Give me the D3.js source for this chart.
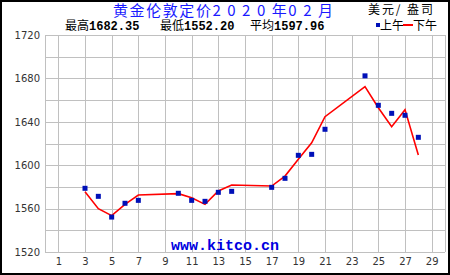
<!DOCTYPE html>
<html>
<head>
<meta charset="utf-8">
<script src="https://cdn.jsdelivr.net/npm/d3@7"></script>
<style>
  body { margin: 0; background: #fff; }
  svg { display: block; }
  .cjk { font-family: "Noto Sans CJK SC", sans-serif; }
  .mono { font-family: "Liberation Mono", "DejaVu Sans Mono", monospace; font-weight: bold; }
  .axis text { font-family: "DejaVu Sans", sans-serif; font-size: 10px; fill: #333; }
</style>
</head>
<body>
<div id="chart"></div>
<script>
// data: London gold fix, Feb 2020 (USD / oz)
const days = [3, 4, 5, 6, 7, 10, 11, 12, 13, 14, 17, 18, 19, 20, 21, 24, 25, 26, 27, 28];
const amPrices = [1578.7, 1571.3, 1552.2, 1564.9, 1567.6, 1574.1, 1567.6, 1566.7, 1575.0, 1575.9,
                  1579.6, 1587.9, 1609.1, 1610.0, 1633.1, 1682.35, 1655.2, 1647.8, 1646.0, 1625.7];
const pmPrices = [1575.6, 1559.9, 1553.5, 1563.9, 1572.5, 1573.8, 1570.0, 1563.9, 1576.2, 1581.8,
                  1580.8, 1590.0, 1605.4, 1620.7, 1644.7, 1672.4, 1653.0, 1635.5, 1651.2, 1609.4];
const yTicks = [1520, 1560, 1600, 1640, 1680, 1720];
const xTicks = [1, 3, 5, 7, 9, 11, 13, 15, 17, 19, 21, 23, 25, 27, 29];

const width = 450, height = 275;
const margin = { top: 35, right: 5, bottom: 23, left: 45 };

const svg = d3.select("#chart").append("svg")
  .attr("width", width).attr("height", height);

// scale
const x = d3.scaleLinear().domain([0, 30]).range([margin.left, width - margin.right]);
const y = d3.scaleLinear().domain([1520, 1720]).range([height - margin.bottom, margin.top]);

// outer frame
svg.append("rect")
  .attr("x", 1).attr("y", 1).attr("width", width - 2).attr("height", height - 2)
  .attr("fill", "#fff").attr("stroke", "#000").attr("stroke-width", 2);

// grid
const grid = svg.append("g").attr("shape-rendering", "crispEdges");
grid.selectAll(".hg").data(d3.range(1520, 1721, 20)).join("line")
  .attr("x1", x(0)).attr("x2", x(30))
  .attr("y1", (d) => Math.round(y(d)) + 0.5).attr("y2", (d) => Math.round(y(d)) + 0.5)
  .attr("stroke", "#c0c0c0");
grid.selectAll(".vg").data([0].concat(xTicks, [30])).join("line")
  .attr("x1", (d) => Math.round(x(d)) + 0.5).attr("x2", (d) => Math.round(x(d)) + 0.5)
  .attr("y1", y(1520)).attr("y2", y(1720))
  .attr("stroke", "#c0c0c0");

// axes
svg.append("g").attr("class", "axis")
  .attr("transform", `translate(${x(0)},0)`)
  .call(d3.axisLeft(y).tickValues(yTicks).tickFormat(d3.format("d")).tickSize(0).tickPadding(5))
  .call((g) => g.select(".domain").remove());
svg.append("g").attr("class", "axis")
  .attr("transform", `translate(0,${y(1520)})`)
  .call(d3.axisBottom(x).tickValues(xTicks).tickSize(0).tickPadding(6))
  .call((g) => g.select(".domain").remove());

// watermark
svg.append("text").attr("class", "mono")
  .attr("x", x(13.5)).attr("y", 250)
  .attr("text-anchor", "middle").attr("font-size", 15).attr("fill", "#0000e0")
  .text("www.kitco.cn");

// PM line
const line = d3.line()
  .x((d, i) => x(days[i]))
  .y((d) => y(d));
svg.append("path")
  .datum(pmPrices)
  .attr("d", line)
  .attr("fill", "none")
  .attr("stroke", "#ff0000")
  .attr("stroke-width", 1.6);

// AM squares
svg.selectAll(".am").data(amPrices).join("rect")
  .attr("x", (d, i) => x(days[i]) - 2.5)
  .attr("y", (d) => y(d) - 2.5)
  .attr("width", 5).attr("height", 5)
  .attr("fill", "#0010b8");

// title + header
svg.append("text").attr("class", "cjk")
  .attr("x", 113).attr("y", 16)
  .attr("font-size", 15).attr("fill", "#1a1aff")
  .attr("textLength", 220).attr("lengthAdjust", "spacing")
  .text("黄金伦敦定价2 0 2 0 年0 2 月");

svg.append("text").attr("class", "cjk")
  .attr("x", 368).attr("y", 14)
  .attr("font-size", 12).attr("fill", "#000")
  .attr("textLength", 65).attr("lengthAdjust", "spacing")
  .text("美元/ 盎司");

const stats = [["最高", "1682.35", 65], ["最低", "1552.20", 160], ["平均", "1597.96", 250]];
stats.forEach(([label, val, sx]) => {
  const t = svg.append("text").attr("x", sx).attr("y", 30).attr("fill", "#000");
  t.append("tspan").attr("class", "cjk").attr("font-size", 12).text(label);
  t.append("tspan").attr("class", "mono").attr("font-size", 12).text(val);
});

// legend
svg.append("rect").attr("x", 376).attr("y", 23).attr("width", 4).attr("height", 4).attr("fill", "#0010b8");
svg.append("text").attr("class", "cjk").attr("x", 380).attr("y", 30)
  .attr("font-size", 12).attr("fill", "#000").text("上午");
svg.append("line").attr("x1", 403).attr("x2", 413).attr("y1", 25).attr("y2", 25)
  .attr("stroke", "#ff0000").attr("stroke-width", 2);
svg.append("text").attr("class", "cjk").attr("x", 413).attr("y", 30)
  .attr("font-size", 12).attr("fill", "#000").text("下午");
</script>
</body>
</html>
